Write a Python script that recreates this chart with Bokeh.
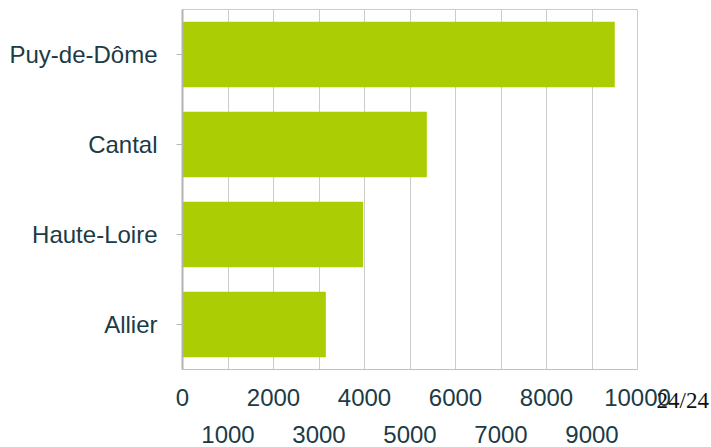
from bokeh.plotting import figure
from bokeh.models import Range1d, FixedTicker, LinearAxis, ColumnDataSource
from bokeh.embed import file_html
from bokeh.resources import INLINE

# Data (bottom to top)
categories = ["Allier", "Haute-Loire", "Cantal", "Puy-de-Dôme"]
values = [3150, 3970, 5370, 9500]
ticks_row1 = [0, 2000, 4000, 6000, 8000, 10000]
ticks_row2 = [1000, 3000, 5000, 7000, 9000]
page_label = "24/24"

BAR = "#abcd03"
TXT = "#1b3b46"
FONT = "Liberation Sans"

positions = [i + 0.5 for i in range(len(categories))]
src = ColumnDataSource(dict(y=positions, v=values, cat=categories))

p = figure(width=711, height=447, output_backend="svg", toolbar_location=None,
           x_range=Range1d(0, 10000), y_range=Range1d(0, len(categories)),
           min_border_left=182, min_border_right=73, min_border_top=9,
           min_border_bottom=78)
p.outline_line_color = "#cccccc"
p.background_fill_color = "white"
p.border_fill_color = "white"

p.hbar(y="y", right="v", left=0, height=0.73, source=src,
       fill_color=BAR, line_color=None)

p.ygrid.visible = False
p.xgrid.ticker = FixedTicker(ticks=sorted(ticks_row1 + ticks_row2))
p.xgrid.grid_line_color = "#cccccc"
p.xgrid.grid_line_width = 1

ya = p.yaxis[0]
ya.ticker = FixedTicker(ticks=positions)
ya.major_label_overrides = {pos: c for pos, c in zip(positions, categories)}
ya.major_label_text_font = FONT
ya.major_label_text_font_size = "24px"
ya.major_label_text_color = TXT
ya.major_tick_out = 6
ya.major_tick_in = 0
ya.major_tick_line_color = "#b8b8b8"
ya.minor_tick_line_color = None
ya.axis_line_color = "#b3b3b3"
ya.axis_line_width = 2
ya.major_label_standoff = 19

xa = p.xaxis[0]
xa.ticker = FixedTicker(ticks=ticks_row1)
xa.major_label_overrides = {t: str(t) for t in ticks_row1}
xa.major_label_text_font = FONT
xa.major_label_text_font_size = "24px"
xa.major_label_text_color = TXT
xa.major_tick_out = 0
xa.major_tick_in = 0
xa.minor_tick_line_color = None
xa.major_tick_line_color = None
xa.axis_line_color = "#c0c0c0"
xa.major_label_standoff = 19

xb = LinearAxis(ticker=FixedTicker(ticks=ticks_row2))
xb.major_label_overrides = {t: str(t) for t in ticks_row2}
xb.major_label_text_font = FONT
xb.major_label_text_font_size = "24px"
xb.major_label_text_color = TXT
xb.major_tick_out = 0
xb.major_tick_in = 0
xb.minor_tick_line_color = None
xb.major_tick_line_color = None
xb.axis_line_color = None
xb.major_label_standoff = 17
p.add_layout(xb, "below")

# page number, placed through a right-hand axis at the bottom of the frame
yr = LinearAxis(ticker=FixedTicker(ticks=[0]))
yr.major_label_overrides = {0: "\n\n" + page_label}
yr.major_label_text_font = "Liberation Serif"
yr.major_label_text_font_size = "23px"
yr.major_label_text_line_height = 1.25
yr.major_label_text_color = "#111111"
yr.major_tick_out = 0
yr.major_tick_in = 0
yr.minor_tick_line_color = None
yr.major_tick_line_color = None
yr.axis_line_color = None
yr.major_label_standoff = 19
p.add_layout(yr, "right")

open("out.html", "w").write(file_html(p, INLINE))
